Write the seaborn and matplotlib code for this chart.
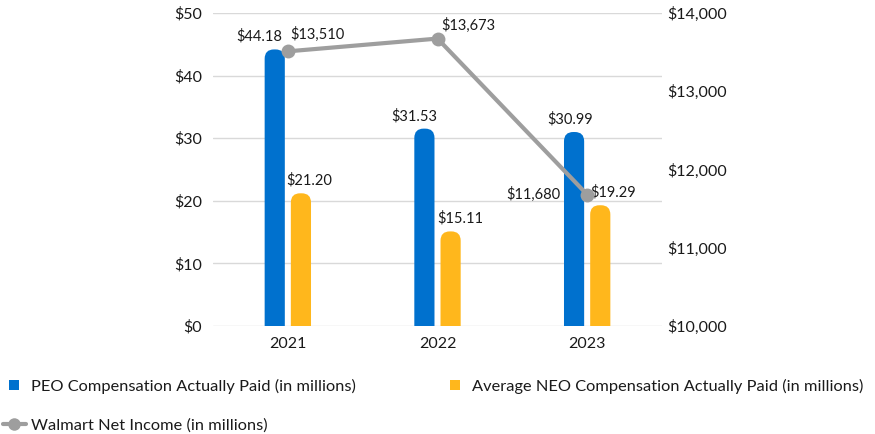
import matplotlib
matplotlib.use("Agg")
import matplotlib.pyplot as plt
from matplotlib.patches import FancyBboxPatch
from matplotlib.lines import Line2D
import seaborn as sns
import pandas as pd

# ---- data ----
years = ["2021", "2022", "2023"]
peo_cap = [44.18, 31.53, 30.99]          # PEO compensation actually paid ($M)
neo_cap = [21.20, 15.11, 19.29]          # average NEO compensation actually paid ($M)
net_income = [13510, 13673, 11680]       # Walmart net income ($M)

peo_label = "PEO Compensation Actually Paid (in millions)"
neo_label = "Average NEO Compensation Actually Paid (in millions)"
ni_label = "Walmart Net Income (in millions)"

left_ticks = [0, 10, 20, 30, 40, 50]
right_ticks = [10000, 11000, 12000, 13000, 14000]

BLUE = "#0071CE"
GOLD = "#FFB71C"
GREY = "#9E9E9E"
TEXT = "#1A1A1A"

sns.set_theme(style="white")
plt.rcParams["font.family"] = ["Lato", "DejaVu Sans"]
plt.rcParams["text.color"] = TEXT

df = pd.DataFrame({
    "year": years * 2,
    "value": peo_cap + neo_cap,
    "series": [peo_label] * 3 + [neo_label] * 3,
})

fig = plt.figure(figsize=(8.75, 4.34), dpi=100)
ax = fig.add_axes([213 / 875, 1 - 326 / 434, 449 / 875, 313 / 434])

sns.barplot(data=df, x="year", y="value", hue="series",
            palette=[BLUE, GOLD], width=0.35, gap=0.23,
            legend=False, ax=ax, saturation=1)

ax.set_xlim(-0.5, 2.5)
ax.set_ylim(0, 50)
ax.set_yticks(left_ticks)
ax.set_yticklabels([f"${v}" for v in left_ticks], fontsize=11.5)
ax.set_xticks(range(len(years)))
ax.set_xticklabels(years, fontsize=11.5)
ax.set_xlabel("")
ax.set_ylabel("")
ax.tick_params(axis="both", length=0, pad=8, colors=TEXT)
ax.yaxis.grid(True, color="#D9D9D9", linewidth=1)
ax.set_axisbelow(True)
for s in ax.spines.values():
    s.set_visible(False)

# rounded tops on the bars
fig.canvas.draw()
bbox = ax.get_window_extent()
dx = 3.0 / bbox.width
dy = 50.0 / bbox.height
aspect = dy / dx
bars = list(ax.patches)
bar_info = []
for rect in bars:
    x, w, h = rect.get_x(), rect.get_width(), rect.get_height()
    color = rect.get_facecolor()
    rect.set_visible(False)
    r = 0.46 * w
    pad_y = r * aspect
    patch = FancyBboxPatch((x, -pad_y), w, h + pad_y,
                           boxstyle=f"round,pad=0,rounding_size={r}",
                           mutation_aspect=aspect, facecolor=color,
                           edgecolor="none", clip_on=True, zorder=2)
    ax.add_patch(patch)
    bar_info.append((x + w / 2, h))

# bar value labels
bar_dx = [-11, -7, -3, 6, 7, 9]
for (cx, h), off in zip(bar_info, bar_dx):
    ax.annotate(f"${h:.2f}", xy=(cx, h), xytext=(off, 4),
                textcoords="offset points", ha="center", va="bottom",
                fontsize=10.5, color=TEXT)

# net income line on secondary axis
ax2 = ax.twinx()
sns.lineplot(x=list(range(len(years))), y=net_income, ax=ax2, color=GREY,
             linewidth=3, marker="o", markersize=10, markeredgewidth=0,
             zorder=3)
ax2.set_ylim(10000, 14000)
ax2.set_yticks(right_ticks)
ax2.set_yticklabels([f"${v:,}" for v in right_ticks], fontsize=11.5)
ax2.tick_params(axis="y", length=0, pad=4, colors=TEXT)
ax2.set_ylabel("")
ax2.grid(False)
for s in ax2.spines.values():
    s.set_visible(False)
ax.set_xlim(-0.5, 2.5)

ni_offsets = [(2, 7, "left", "bottom"), (3, 4, "left", "bottom"),
              (-19, 0, "right", "center")]
for i, (v, (ox, oy, ha, va)) in enumerate(zip(net_income, ni_offsets)):
    ax2.annotate(f"${v:,}", xy=(i, v), xytext=(ox, oy),
                 textcoords="offset points", ha=ha, va=va,
                 fontsize=10.5, color=TEXT)

# legends below the plot
sq = dict(marker="s", linestyle="none", markersize=7, markeredgewidth=0)
h_peo = Line2D([], [], color=BLUE, **sq)
h_neo = Line2D([], [], color=GOLD, **sq)
h_ni = Line2D([], [], color=GREY, linewidth=3, marker="o", markersize=9,
              markeredgewidth=0)

leg_kw = dict(loc="upper left", frameon=False, fontsize=11.8, borderpad=0,
              borderaxespad=0, handlelength=1.4, handletextpad=0.3,
              labelspacing=1.5)
leg1 = fig.legend([h_peo, h_ni], [peo_label, ni_label],
                  bbox_to_anchor=(3 / 875, 1 - 379 / 434), **leg_kw)
leg2 = fig.legend([h_neo], [neo_label],
                  bbox_to_anchor=(444 / 875, 1 - 379 / 434), **leg_kw)

fig.savefig("out.png", dpi=100)
